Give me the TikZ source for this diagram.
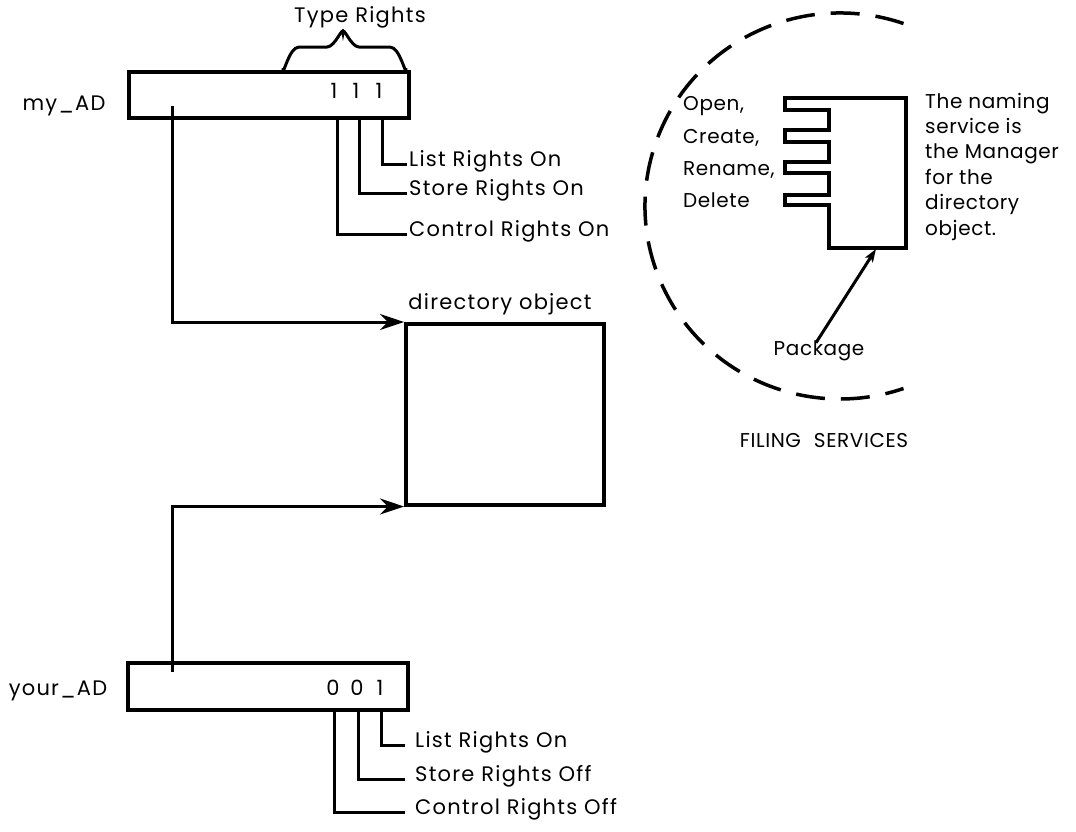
\documentclass[tikz,border=0pt]{standalone}
\usepackage{fontspec}
\setmainfont{Poppins}
\usetikzlibrary{arrows.meta,calc}
\begin{document}
\begin{tikzpicture}[x=1pt,y=-1pt,
  box/.style={draw, line width=3.5pt, inner sep=0pt},
  wire/.style={line width=3pt},
  arr/.style={wire, -{Stealth[length=24pt,width=16pt,inset=8pt]}},
  parr/.style={line width=3pt, -{Stealth[length=13pt,width=9pt,inset=3pt]}},
  lbl/.style={font=\fontsize{21}{25}\selectfont\addfontfeatures{LetterSpace=6}, inner sep=0pt, anchor=mid},
  rlbl/.style={font=\fontsize{20}{25.4}\selectfont\addfontfeatures{LetterSpace=3}, inner sep=0pt, anchor=mid},
  dashcirc/.style={line width=3.5pt, dash pattern=on 29pt off 16pt}]
\useasboundingbox (0,0) rectangle (1076,831);

% --- my_AD ---
\node[box, minimum width=280pt, minimum height=46pt, anchor=north west] (myad) at (127,70) {};
\node[lbl] (myadl) at (64,108) {my\_AD};
\node[lbl] (md1) at (334,96) {1};
\node[lbl] (md2) at (356,96) {1};
\node[lbl] (md3) at (379,96) {1};
\node[lbl] (typer) at (360,20) {Type Rights};
\draw[wire] (283,68) to[out=-90,in=180] (299,47) -- (327,47) to[out=0,in=90] (343,33)
            to[out=90,in=180] (359,47) -- (390,47) to[out=0,in=-90] (406,68);

\node[lbl, anchor=mid west] (mlist) at (409,164) {List Rights On};
\node[lbl, anchor=mid west] (mstore) at (409,193) {Store Rights On};
\node[lbl, anchor=mid west] (mctrl) at (409,234) {Control Rights On};
\draw[wire] ([xshift=255pt]myad.south west) |- ([xshift=-2pt]mlist.mid west);
\draw[wire] ([xshift=232pt]myad.south west) |- ([xshift=-2pt]mstore.mid west);
\draw[wire] ([xshift=210pt]myad.south west) |- ([xshift=-2pt]mctrl.mid west);

% --- directory object ---
\node[box, minimum width=198pt, minimum height=181pt, anchor=north west] (dirobj) at (404,322) {};
\node[lbl] (dirl) at (500,307) {directory object};

% --- your_AD ---
\node[box, minimum width=280pt, minimum height=47pt, anchor=north west] (yourad) at (126,661) {};
\node[lbl] (youradl) at (58,693) {your\_AD};
\node[lbl] (yd1) at (333,693) {0};
\node[lbl] (yd2) at (357,693) {0};
\node[lbl] (yd3) at (380,693) {1};

\node[lbl, anchor=mid west] (ylist) at (415,745) {List Rights On};
\node[lbl, anchor=mid west] (ystore) at (415,779) {Store Rights Off};
\node[lbl, anchor=mid west] (yctrl) at (415,812) {Control Rights Off};
\draw[wire] ([xshift=255pt]yourad.south west) |- ([xshift=-10pt]ylist.mid west);
\draw[wire] ([xshift=232pt]yourad.south west) |- ([xshift=-10pt]ystore.mid west);
\draw[wire] ([xshift=208pt]yourad.south west) |- ([xshift=-10pt]yctrl.mid west);

% --- pointers ---
\coordinate (mytap) at (172,106);
\coordinate (yourtap) at (172,672);
\draw[arr] (mytap) |- (dirobj.north west);
\draw[arr] (yourtap) |- (dirobj.south west);

% --- filing services ---
\coordinate (fc) at (840,206);
\draw[dashcirc] (fc) ++(-71:195 and 193) arc[start angle=-71, end angle=-289, x radius=195, y radius=193];

\draw[line width=3.5pt] (785,98) -- (906,98) -- (906,248) -- (829,248) -- (829,205) -- (785,205)
  -- (785,195) -- (829,195) -- (829,173) -- (785,173) -- (785,162) -- (829,162)
  -- (829,142) -- (785,142) -- (785,130) -- (829,130) -- (829,110) -- (785,110) -- cycle;
\coordinate (pkgbottom) at (876,249);

\node[rlbl, anchor=mid west] (open) at (683,108) {Open,};
\node[rlbl, anchor=mid west] (create) at (683,141) {Create,};
\node[rlbl, anchor=mid west] (rename) at (683,173) {Rename,};
\node[rlbl, anchor=mid west] (delete) at (683,205) {Delete};

\node[rlbl, anchor=mid west] (nm1) at (925,106) {The naming};
\node[rlbl, anchor=mid west] (nm2) at (925,131) {service is};
\node[rlbl, anchor=mid west] (nm3) at (925,156) {the Manager};
\node[rlbl, anchor=mid west] (nm4) at (925,182) {for the};
\node[rlbl, anchor=mid west] (nm5) at (925,207) {directory};
\node[rlbl, anchor=mid west] (nm6) at (925,233) {object.};

\node[rlbl] (pkg) at (819,353) {Package};
\draw[parr] ([xshift=-3pt,yshift=-2pt]pkg.north) -- (pkgbottom);

\node[rlbl] (filing) at (824,445) {FILING\hspace{7pt} SERVICES};
\end{tikzpicture}
\end{document}
